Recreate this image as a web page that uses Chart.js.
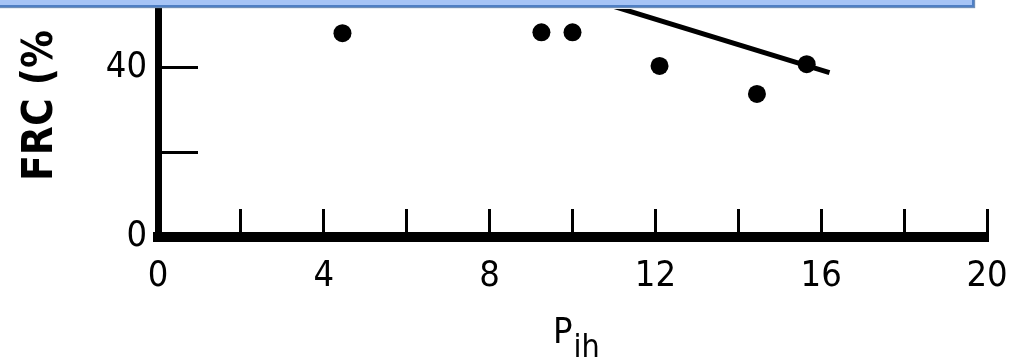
<!DOCTYPE html>
<html>
<head>
<meta charset="utf-8">
<title>FRC vs Pih</title>
<script src="https://cdn.jsdelivr.net/npm/chart.js@4.4.1/dist/chart.umd.min.js"></script>
<style>
  html, body { margin:0; padding:0; background:#fff; }
  #wrap { position:relative; width:1023px; height:364px; overflow:hidden; }
  #banner {
    position:absolute; left:-4px; top:-30px; width:974px; height:33px;
    background:#a6c4f6; border:2px solid #4f7fc4; box-shadow:1px 1px 1px #6f8fb8;
  }
</style>
</head>
<body>
<div id="wrap">
  <canvas id="plot" width="1023" height="364"></canvas>
  <div id="banner"></div>
</div>
<script>
// measured points: inhalation pressure vs FRC
const pih = [4.45, 9.25, 10.0, 12.1, 14.45, 15.65];
const frc = [48.0, 48.2, 48.2, 40.3, 33.7, 40.7];

// regression line end points
const fitX = [9.0, 16.2];
const fitY = [60.3, 38.7];

// axis ranges / ticks
const xRange = [0, 20];
const xStep = 2;
const xLabelEvery = 4;
const yRange = [0, 53.7];
const yStep = 20;
const yLabelEvery = 40;

const yTitle = 'FRC (%';
const xTitle = 'P';
const xTitleSub = 'ih';

const NARROW = "'Liberation Sans Narrow', 'DejaVu Sans Condensed', sans-serif";

// plot box edges in px (left axis at 158, bottom axis at 237)
const AXIS_LEFT = 158;
const AXIS_BOTTOM = 237;

const axisLabels = {
  id: 'axisLabels',
  afterDraw(chart) {
    const ctx = chart.ctx;
    ctx.save();
    ctx.fillStyle = '#000';
    // vertical title, reading bottom to top
    ctx.translate(52, 181);
    ctx.rotate(-Math.PI / 2);
    ctx.font = 'bold 42px ' + NARROW;
    ctx.textAlign = 'left';
    ctx.textBaseline = 'alphabetic';
    ctx.fillText(yTitle, 0, 0);
    ctx.restore();

    ctx.save();
    ctx.fillStyle = '#000';
    ctx.textBaseline = 'alphabetic';
    ctx.font = '36px ' + NARROW;
    ctx.fillText(xTitle, 553, 343);
    const w = ctx.measureText(xTitle).width;
    ctx.font = '32px ' + NARROW;
    ctx.fillText(xTitleSub, 553 + w + 1, 357);
    ctx.restore();
  }
};

const pts = pih.map((x, i) => ({x, y: frc[i]}));
const fit = fitX.map((x, i) => ({x, y: fitY[i]}));

new Chart(document.getElementById('plot'), {
  type: 'scatter',
  data: {
    datasets: [
      {data: pts, pointRadius: 9, pointHoverRadius: 9, backgroundColor: '#000', borderColor: '#000', borderWidth: 0},
      {data: fit, showLine: true, pointRadius: 0, borderColor: '#000', borderWidth: 5}
    ]
  },
  options: {
    responsive: false,
    animation: false,
    events: [],
    layout: {padding: {left: 0, right: 36, top: 0, bottom: 0}},
    plugins: {legend: {display: false}, tooltip: {enabled: false}},
    scales: {
      x: {
        type: 'linear', min: xRange[0], max: xRange[1],
        border: {display: true, color: '#000', width: 10},
        grid: {display: true, drawOnChartArea: false, drawTicks: true, tickLength: -28, tickWidth: 3, tickColor: '#000'},
        ticks: {
          stepSize: xStep, autoSkip: false, maxRotation: 0, includeBounds: false,
          padding: 46, color: '#000', font: {family: NARROW, size: 36},
          callback: v => (v % xLabelEvery === 0 ? String(v) : '')
        },
        afterFit(s) {
          s.height = 364 - AXIS_BOTTOM;
          s.paddingLeft = 0; s.paddingRight = 0;
        }
      },
      y: {
        type: 'linear', min: yRange[0], max: yRange[1],
        border: {display: true, color: '#000', width: 7},
        grid: {display: true, drawOnChartArea: false, drawTicks: true, tickLength: -40, tickWidth: 3, tickColor: '#000'},
        ticks: {
          stepSize: yStep, autoSkip: false, includeBounds: false,
          padding: 51, color: '#000', font: {family: NARROW, size: 36},
          callback: v => (v % yLabelEvery === 0 ? String(v) : '')
        },
        afterFit(s) {
          s.width = AXIS_LEFT;
          s.paddingTop = 0; s.paddingBottom = 0;
        }
      }
    }
  },
  plugins: [axisLabels]
});
</script>
</body>
</html>
